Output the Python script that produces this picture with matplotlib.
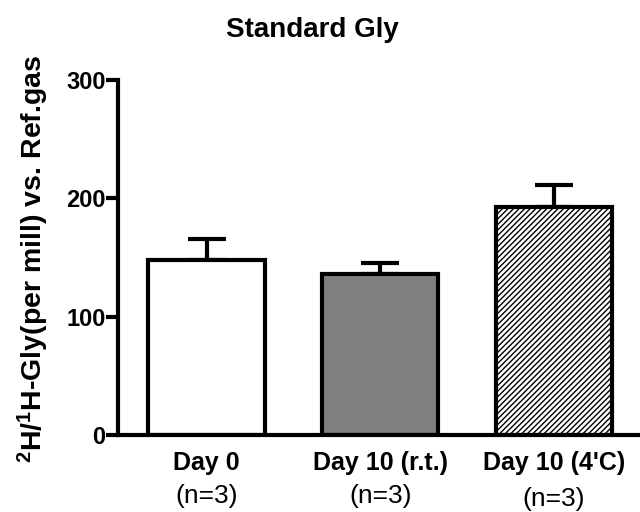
import matplotlib
matplotlib.use("Agg")
import matplotlib.pyplot as plt

categories = ["Day 0", "Day 10 (r.t.)", "Day 10 (4'C)"]
n_labels = ["(n=3)", "(n=3)", "(n=3)"]
means = [148, 136, 193]
errors = [18, 9, 18]
yticks = [0, 100, 200, 300]

plt.rcParams['font.family'] = ['Liberation Sans', 'DejaVu Sans']
plt.rcParams['hatch.linewidth'] = 1.0
plt.rcParams['mathtext.fontset'] = 'custom'
plt.rcParams['mathtext.rm'] = 'Liberation Sans'
plt.rcParams['mathtext.bf'] = 'Liberation Sans:bold'

fig = plt.figure(figsize=(6.4, 5.12), dpi=100)
ax = fig.add_axes([118/640, 77/512, (640-118)/640 + 0.02, 355/512])

x = list(range(len(categories)))
faces = ['white', '#808080', 'white']
hatches = [None, None, '//////']
bars = ax.bar(x, means, width=0.67, color=faces, edgecolor='black', linewidth=3, zorder=2)
for b, h in zip(bars, hatches):
    if h:
        b.set_hatch(h)
ax.errorbar(x, means, yerr=[[0]*3, errors], fmt='none', ecolor='black',
            elinewidth=3, capsize=14, capthick=3, zorder=1)

ax.set_xlim(-0.51, 2.57)
ax.set_ylim(0, 300)
ax.set_yticks(yticks)
ax.set_yticklabels([str(t) for t in yticks], fontsize=17, fontweight='bold')
ax.set_xticks(x)
ax.set_xticklabels([])
ax.tick_params(axis='y', width=3, length=9, pad=0)
ax.tick_params(axis='x', length=0)
for s in ['top', 'right']:
    ax.spines[s].set_visible(False)
for s in ['left', 'bottom']:
    ax.spines[s].set_linewidth(3)

to_fig = fig.transFigure
for i, (c, n) in enumerate(zip(categories, n_labels)):
    xc = ax.transData.transform((i, 0))[0] / fig.bbox.width
    fig.text(xc, 1 - 470/512, c, ha='center', va='baseline', fontsize=18, fontweight='bold')
    fig.text(xc, 1 - (503 if i < 2 else 506)/512, n, ha='center', va='baseline', fontsize=19)

fig.text(312/640, 1 - 37/512, 'Standard Gly', ha='center', va='baseline',
         fontsize=20, fontweight='bold')
fig.text(33/640, 1 - 259/512, r'$\mathbf{^2}$H/$\mathbf{^1}$H-Gly(per mill) vs. Ref.gas',
         rotation=90, ha='center', va='center', fontsize=20.5, fontweight='bold')

fig.savefig('out.png', dpi=100)
